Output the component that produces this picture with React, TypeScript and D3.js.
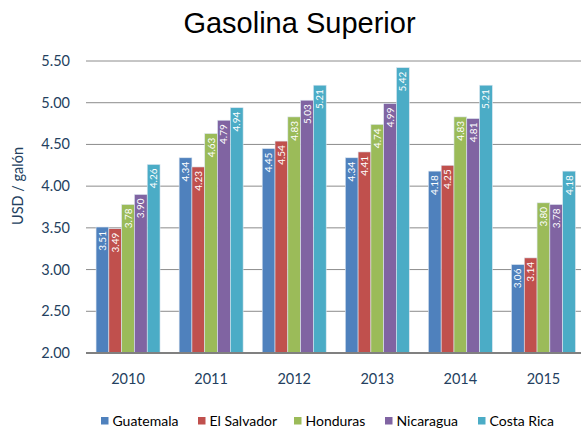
import React from "react";
import * as d3 from "d3";

const years = ["2010", "2011", "2012", "2013", "2014", "2015"];
const countries = ["Guatemala", "El Salvador", "Honduras", "Nicaragua", "Costa Rica"];
const colors = ["#4F81BD", "#C0504D", "#9BBB59", "#8064A2", "#4BACC6"];
const guatemala = [3.51, 4.34, 4.45, 4.34, 4.18, 3.06];
const elSalvador = [3.49, 4.23, 4.54, 4.41, 4.25, 3.14];
const honduras = [3.78, 4.63, 4.83, 4.74, 4.83, 3.80];
const nicaragua = [3.90, 4.79, 5.03, 4.99, 4.81, 3.78];
const costaRica = [4.26, 4.94, 5.21, 5.42, 5.21, 4.18];
const series = [guatemala, elSalvador, honduras, nicaragua, costaRica];
const yTicks = [2.0, 2.5, 3.0, 3.5, 4.0, 4.5, 5.0, 5.5];

export default function App() {
  const W = 581, H = 429;
  const x0 = d3.scaleBand<string>().domain(years).range([86.5, 585]).paddingInner(0.23).paddingOuter(0.115);
  const x1 = d3.scaleBand<string>().domain(countries).range([0, x0.bandwidth()]).padding(0);
  const y = d3.scaleLinear().domain([2, 5.5]).range([353, 61]);
  const font = "Lato, 'Open Sans', sans-serif";
  const navy = "#243F60";
  const legendX = [101, 198, 294, 385, 478];
  return (
    <svg width={W} height={H} style={{ position: "absolute", left: 0, top: 0 }}>
      <rect width={W} height={H} fill="#fff" />
      <text x={299.5} y={33} textAnchor="middle" fontFamily="'Liberation Sans', Arial, sans-serif" fontSize={29} fill="#000">
        Gasolina Superior
      </text>
      {yTicks.map((t) => (
        <g key={t}>
          {t > 2 && <line x1={86} x2={581} y1={y(t)} y2={y(t)} stroke="#8C8C8C" strokeWidth={1} />}
          <text x={70} y={y(t) + 5} textAnchor="end" fontFamily={font} fontSize={14.5} fill={navy}>
            {t.toFixed(2)}
          </text>
        </g>
      ))}
      <text transform={`translate(23,186) rotate(-90)`} textAnchor="middle" fontFamily={font} fontSize={14.5} fill={navy}>
        USD / galón
      </text>
      {years.map((yr, i) => (
        <g key={yr} transform={`translate(${x0(yr)},0)`}>
          {countries.map((c, j) => {
            const v = series[j][i];
            const bx = x1(c)!;
            const bw = x1.bandwidth();
            return (
              <g key={c}>
                <rect x={bx} y={y(v)} width={bw} height={y(2) - y(v)} fill={colors[j]} stroke="#DDE6F0" strokeWidth={0.6} />
                <text
                  transform={`translate(${bx + bw / 2 + 3.5},${y(v) + 4}) rotate(-90)`}
                  textAnchor="end"
                  fontFamily={font}
                  fontSize={10}
                  fill="#fff"
                >
                  {v.toFixed(2)}
                </text>
              </g>
            );
          })}
          <text x={x0.bandwidth() / 2} y={384} textAnchor="middle" fontFamily={font} fontSize={14.5} fill={navy}>
            {yr}
          </text>
        </g>
      ))}
      <line x1={86} x2={581} y1={y(2)} y2={y(2)} stroke="#808080" strokeWidth={2} />
      {countries.map((c, j) => (
        <g key={c}>
          <rect x={legendX[j]} y={417} width={7.5} height={7.5} fill={colors[j]} />
          <text x={legendX[j] + 11.5} y={426} fontFamily={font} fontSize={14} fill="#000">
            {c}
          </text>
        </g>
      ))}
    </svg>
  );
}
